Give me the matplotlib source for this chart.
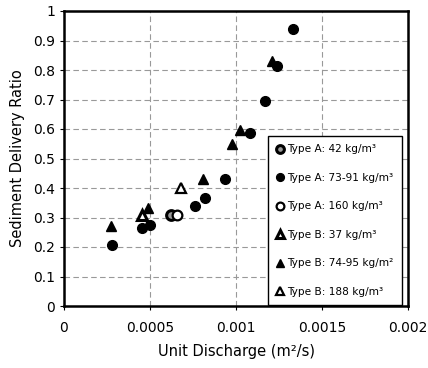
import matplotlib
matplotlib.use("Agg")
from matplotlib import pyplot as plt
import numpy as np

plt.rcParams['font.family'] = ['DejaVu Sans']

# Unit discharge (m2/s) and sediment delivery ratio per series
a42_q = [0.00062]
a42_r = [0.31]
a7391_q = [0.000281, 0.000455, 0.0005, 0.000762, 0.00082, 0.000936, 0.001083, 0.001169, 0.00124, 0.00133]
a7391_r = [0.206, 0.264, 0.275, 0.340, 0.365, 0.431, 0.585, 0.695, 0.815, 0.939]
a160_q = [0.000655]
a160_r = [0.31]
b37_q = [0.000452]
b37_r = [0.31]
b7495_q = [0.000271, 0.00049, 0.000806, 0.000975, 0.001023, 0.001211]
b7495_r = [0.272, 0.333, 0.430, 0.550, 0.595, 0.830]
b188_q = [0.00068]
b188_r = [0.40]

x_ticks = [0, 0.0005, 0.001, 0.0015, 0.002]
x_tick_labels = ['0', '0.0005', '0.001', '0.0015', '0.002']
y_ticks = np.round(np.arange(0, 1.01, 0.1), 1)
y_tick_labels = ['0', '0.1', '0.2', '0.3', '0.4', '0.5', '0.6', '0.7', '0.8', '0.9', '1']

fig = plt.figure(figsize=(4.28, 3.68), dpi=100)
ax = fig.add_axes([64/428, 1-306/368, 344/428, 295/368])

ms = 7
ax.plot(a42_q, a42_r, 'o', ms=ms, mfc='#999999', mec='black', mew=2.2, ls='none', label='Type A: 42 kg/m³')
ax.plot(a7391_q, a7391_r, 'o', ms=ms, mfc='black', mec='black', ls='none', label='Type A: 73-91 kg/m³')
ax.plot(a160_q, a160_r, 'o', ms=ms, mfc='white', mec='black', mew=1.6, ls='none', label='Type A: 160 kg/m³')
ax.plot(b37_q, b37_r, '^', ms=ms, mfc='white', mec='black', mew=2.2, ls='none', label='Type B: 37 kg/m³')
ax.plot(b7495_q, b7495_r, '^', ms=ms, mfc='black', mec='black', ls='none', label='Type B: 74-95 kg/m²')
ax.plot(b188_q, b188_r, '^', ms=ms, mfc='white', mec='black', mew=1.6, ls='none', label='Type B: 188 kg/m³')

ax.set_xlim(0, 0.002)
ax.set_ylim(0, 1)
ax.set_xticks(x_ticks)
ax.set_xticklabels(x_tick_labels)
ax.set_yticks(y_ticks)
ax.set_yticklabels(y_tick_labels)
ax.tick_params(labelsize=10, direction='out', length=3, width=0.8)
ax.tick_params(axis='x', pad=8)

ax.grid(True, color='#999999', ls=(0, (5, 3)), lw=0.8)
ax.set_axisbelow(True)
for s in ax.spines.values():
    s.set_linewidth(1.8)

ax.set_xlabel('Unit Discharge (m²/s)', fontsize=10.5, labelpad=6)
ax.set_ylabel('Sediment Delivery Ratio', fontsize=10.5, labelpad=6)

leg = ax.legend(loc='lower right', bbox_to_anchor=(0.983, 0.003), borderaxespad=0,
                fontsize=7.6, labelspacing=1.75, handlelength=0.7, handletextpad=0.3,
                borderpad=0.8, markerscale=0.8, fancybox=False, framealpha=1,
                edgecolor='black')
leg.get_frame().set_linewidth(1.0)

fig.savefig('out.png', dpi=100)
